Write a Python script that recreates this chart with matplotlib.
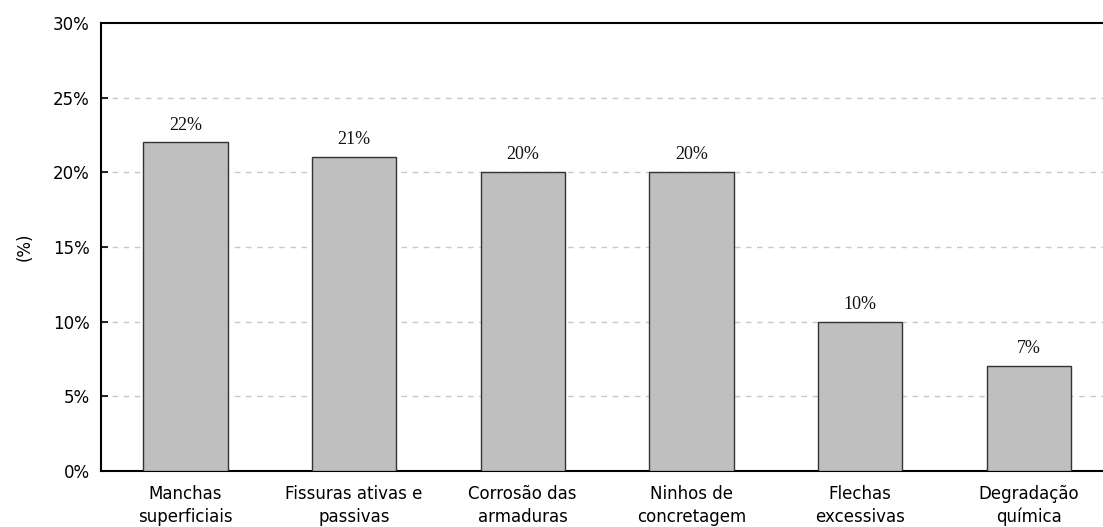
import matplotlib.pyplot as plt
from matplotlib.ticker import FuncFormatter

categories = ["Manchas\nsuperficiais", "Fissuras ativas e\npassivas",
              "Corrosão das\narmaduras", "Ninhos de\nconcretagem",
              "Flechas\nexcessivas", "Degradação\nquímica"]
values = [22, 21, 20, 20, 10, 7]
yticks = [0, 5, 10, 15, 20, 25, 30]

fig = plt.figure(figsize=(11.03, 5.27), dpi=100)
ax = fig.add_axes([0.0916, 0.1063, 0.9175, 0.850])

x = range(len(categories))
bars = ax.bar(x, values, width=0.5, color="#bfbfbf", edgecolor="#333333",
              linewidth=1.0, zorder=3)

for rect, v in zip(bars, values):
    ax.text(rect.get_x() + rect.get_width() / 2, v + 0.6, f"{v}%",
            ha="center", va="bottom", fontsize=13,
            family="Liberation Serif", color="#111111")

ax.set_xlim(-0.5, len(categories) - 0.5)
ax.set_ylim(0, 30)
ax.set_yticks(yticks)
ax.yaxis.set_major_formatter(FuncFormatter(lambda v, p: f"{v:.0f}%"))
ax.set_xticks(list(x))
ax.set_xticklabels(categories, fontsize=12, family="DejaVu Sans",
                   linespacing=1.35)
ax.tick_params(axis="y", labelsize=12, direction="in", length=5,
               width=1.2, pad=8)
ax.tick_params(axis="x", length=0, pad=10)

for tick in yticks[1:-1]:
    ax.axhline(tick, color="#c8c8c8", linestyle=(0, (4, 4)),
               linewidth=1.0, zorder=1)

ax.spines["right"].set_visible(False)
for side in ["left", "bottom", "top"]:
    ax.spines[side].set_linewidth(1.5)
    ax.spines[side].set_color("black")

ax.set_ylabel("(%)", fontsize=12, labelpad=14)

fig.savefig("out.png", dpi=100)
